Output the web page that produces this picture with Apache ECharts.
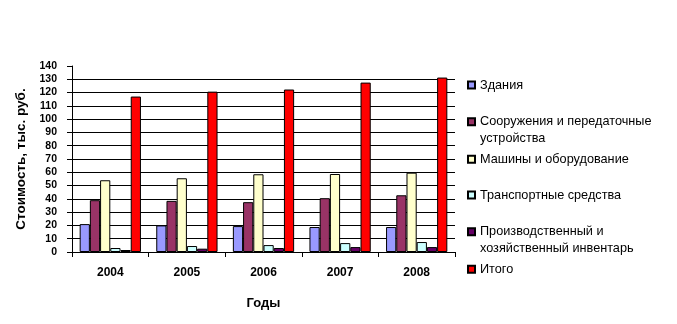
<!DOCTYPE html>
<html><head><meta charset="utf-8">
<script src="https://cdn.jsdelivr.net/npm/echarts@6/dist/echarts.min.js"></script>
<style>html,body{margin:0;padding:0;background:#fff}#c{width:677px;height:324px}</style>
</head><body><div id="c"></div>
<script>
const categories = ['2004', '2005', '2006', '2007', '2008'];
const seriesNames = ['Здания', 'Сооружения и передаточные устройства', 'Машины и оборудование', 'Транспортные средства', 'Производственный и хозяйственный инвентарь', 'Итого'];
const zdaniya = [21, 20, 19.5, 18.8, 18.8];
const sooruzheniya = [39, 38.5, 37.5, 40.5, 42.7];
const mashiny = [54, 55.5, 58.5, 58.7, 59.7];
const transport = [3, 4.5, 5.2, 6.7, 7.5];
const inventar = [1.5, 2.5, 3, 3.7, 3.7];
const itogo = [117, 120.7, 122.3, 127.5, 131.3];
const yTicks = [0, 10, 20, 30, 40, 50, 60, 70, 80, 90, 100, 110, 120, 130, 140];

const values = [zdaniya, sooruzheniya, mashiny, transport, inventar, itogo];
const colors = ['#9999FF', '#993366', '#FFFFCC', '#CCFFFF', '#660066', '#FF0000'];
const legendLines = [
  ['Здания'],
  ['Сооружения и передаточные', 'устройства'],
  ['Машины и оборудование'],
  ['Транспортные средства'],
  ['Производственный и', 'хозяйственный инвентарь'],
  ['Итого']
];
const legendCenters = [85, 121.7, 159.3, 195, 231.7, 269.3];
const FONT = '"Liberation Sans", Arial, sans-serif';

const legends = seriesNames.map((name, i) => {
  const two = legendLines[i].length > 1;
  return {
    data: [name],
    left: 467,
    top: two ? legendCenters[i] - 25.5 : legendCenters[i] - 7,
    padding: 0,
    itemWidth: 7,
    itemHeight: 7,
    icon: 'rect',
    selectedMode: false,
    formatter: () => two ? ' \n' + legendLines[i].join('\n') : legendLines[i][0],
    textStyle: {
      fontFamily: FONT, fontSize: 12.7, color: '#000',
      lineHeight: two ? 17 : 14
    }
  };
});

const chart = echarts.init(document.getElementById('c'), null, {renderer: 'canvas'});
chart.setOption({
  animation: false,
  backgroundColor: '#fff',
  grid: {left: 72, top: 66, width: 383, height: 186, containLabel: false},
  legend: legends,
  xAxis: {
    type: 'category',
    data: categories,
    name: 'Годы',
    nameLocation: 'middle',
    nameGap: 45,
    nameTextStyle: {fontFamily: FONT, fontSize: 13, fontWeight: 'bold', color: '#000'},
    axisLine: {lineStyle: {color: '#000', width: 1}},
    axisTick: {show: true, alignWithLabel: false, length: 5, lineStyle: {color: '#000'}},
    axisLabel: {fontFamily: FONT, fontSize: 12, fontWeight: 'bold', color: '#000', margin: 15}
  },
  yAxis: {
    type: 'value',
    min: yTicks[0],
    max: yTicks[yTicks.length - 1],
    interval: yTicks[1] - yTicks[0],
    name: 'Стоимость, тыс. руб.',
    nameLocation: 'middle',
    nameRotate: 90,
    nameGap: 37,
    nameTextStyle: {fontFamily: FONT, fontSize: 13.5, fontWeight: 'bold', color: '#000'},
    axisLine: {show: true, lineStyle: {color: '#000', width: 1}},
    axisTick: {show: true, length: 5, lineStyle: {color: '#000'}},
    axisLabel: {fontFamily: FONT, fontSize: 10.5, fontWeight: 'bold', color: '#000', margin: 15},
    splitLine: {show: true, showMaxLine: false, lineStyle: {color: '#000', width: 1}}
  },
  series: seriesNames.map((name, i) => ({
    name: name,
    type: 'bar',
    data: values[i],
    barGap: '0%',
    barCategoryGap: '20%',
    itemStyle: {color: colors[i], borderColor: '#000', borderWidth: 1}
  }))
});
</script>
</body></html>
